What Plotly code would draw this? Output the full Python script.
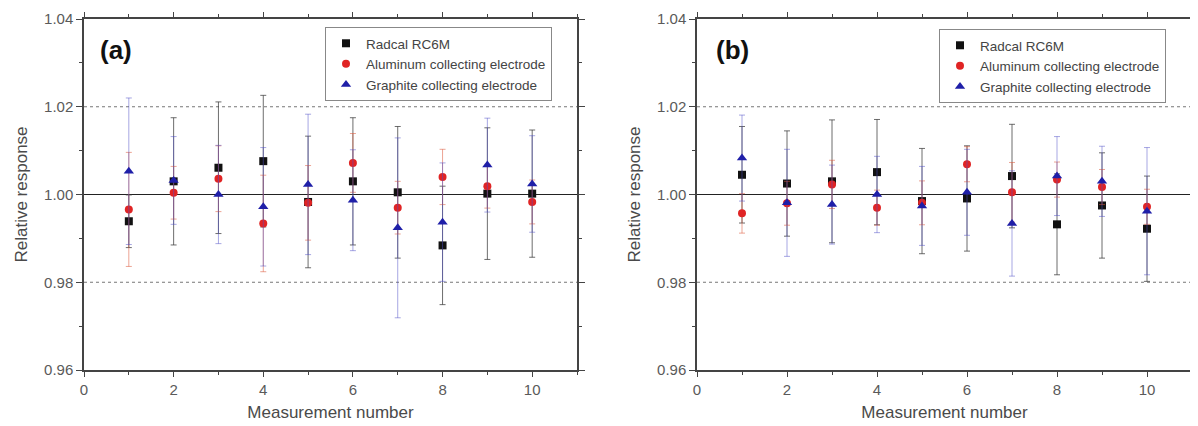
import plotly.graph_objects as go
from plotly.subplots import make_subplots

measurement = [1, 2, 3, 4, 5, 6, 7, 8, 9, 10]

# panel (a)
radcal_a = [0.9939, 1.0030, 1.0061, 1.0076, 0.9983, 1.0030, 1.0005, 0.9884, 1.0002, 1.0002]
radcal_a_err = [0.0060, 0.0145, 0.0150, 0.0150, 0.0150, 0.0145, 0.0150, 0.0135, 0.0150, 0.0145]
alu_a = [0.9966, 1.0004, 1.0036, 0.9934, 0.9981, 1.0072, 0.9970, 1.0040, 1.0019, 0.9983]
alu_a_err = [0.0130, 0.0060, 0.0075, 0.0110, 0.0085, 0.0067, 0.0060, 0.0063, 0.0050, 0.0050]
gra_a = [1.0053, 1.0032, 1.0000, 0.9972, 1.0023, 0.9987, 0.9924, 0.9937, 1.0067, 1.0024]
gra_a_err = [0.0167, 0.0100, 0.0112, 0.0135, 0.0160, 0.0115, 0.0205, 0.0135, 0.0107, 0.0110]

# panel (b)
radcal_b = [1.0045, 1.0025, 1.0030, 1.0051, 0.9985, 0.9991, 1.0042, 0.9932, 0.9975, 0.9922]
radcal_b_err = [0.0110, 0.0120, 0.0140, 0.0120, 0.0120, 0.0120, 0.0118, 0.0115, 0.0120, 0.0120]
alu_b = [0.9957, 0.9980, 1.0023, 0.9970, 0.9981, 1.0069, 1.0005, 1.0034, 1.0017, 0.9972]
alu_b_err = [0.0045, 0.0050, 0.0055, 0.0040, 0.0050, 0.0040, 0.0068, 0.0040, 0.0040, 0.0040]
gra_b = [1.0083, 0.9981, 0.9977, 1.0000, 0.9974, 1.0005, 0.9934, 1.0042, 1.0030, 0.9962]
gra_b_err = [0.0098, 0.0122, 0.0090, 0.0087, 0.0090, 0.0098, 0.0120, 0.0090, 0.0080, 0.0145]

names = ["Radcal RC6M", "Aluminum collecting electrode", "Graphite collecting electrode"]
colors = ["#111111", "#e02424", "#1f1fa8"]
err_colors = ["rgba(60,60,60,0.75)", "rgba(220,90,60,0.55)", "rgba(80,80,200,0.5)"]
symbols = ["square", "circle", "triangle-up"]
sizes = [8, 8, 9]

W, H = 1198, 426
off = 8  # page body margin

fig = make_subplots(rows=1, cols=2)

panels = [
    [(radcal_a, radcal_a_err), (alu_a, alu_a_err), (gra_a, gra_a_err)],
    [(radcal_b, radcal_b_err), (alu_b, alu_b_err), (gra_b, gra_b_err)],
]

for p, series in enumerate(panels):
    for i, (vals, errs) in enumerate(series):
        fig.add_trace(go.Scatter(
            x=measurement, y=vals, mode="markers", name=names[i],
            marker=dict(symbol=symbols[i], size=sizes[i], color=colors[i]),
            error_y=dict(type="data", array=errs, color=err_colors[i],
                         thickness=1, width=3),
            legend="legend" if p == 0 else "legend2",
        ), row=1, col=p + 1)

axis_font = dict(family="Liberation Sans, Arial", size=15, color="#5a5a5a")
for c in (1, 2):
    fig.update_xaxes(range=[0, 11], dtick=2, tick0=0, showline=True, linecolor="#444",
                     linewidth=1.5, mirror="ticks", ticks="outside", ticklen=5,
                     tickcolor="#444", minor=dict(dtick=1, ticks="outside", ticklen=3, tickcolor="#444"),
                     showgrid=False, zeroline=False, tickfont=axis_font, automargin=False,
                     title=dict(text="Measurement number", standoff=9,
                                font=dict(family="Liberation Sans, Arial", size=17, color="#4a4a4a")),
                     row=1, col=c)
    fig.update_yaxes(range=[0.96, 1.04], dtick=0.02, tick0=0.96, tickformat=".2f",
                     showline=True, linecolor="#444", linewidth=1.5, mirror="ticks",
                     ticks="outside", ticklen=6, tickcolor="#444",
                     minor=dict(dtick=0.01, ticks="outside", ticklen=3, tickcolor="#444"),
                     showgrid=False, zeroline=False, tickfont=axis_font, automargin=False,
                     title=dict(text="Relative response", standoff=12,
                                font=dict(family="Liberation Sans, Arial", size=17, color="#4a4a4a")),
                     row=1, col=c)

fig.update_layout(
    xaxis=dict(domain=[(84 - off) / W, (577 - off) / W]),
    xaxis2=dict(domain=[(697 - off) / W, (1192 - off) / W]),
    yaxis=dict(domain=[1 - (370 - off) / H, 1 - (19 - off) / H]),
    yaxis2=dict(domain=[1 - (370 - off) / H, 1 - (19 - off) / H]),
)

# reference lines
for xr, yr in (("x domain", "y"), ("x2 domain", "y2")):
    for lvl, dash, col in ((0.98, "dot", "#777"), (1.02, "dot", "#777"), (1.00, "solid", "#222")):
        fig.add_shape(type="line", xref=xr, yref=yr, x0=0, x1=1, y0=lvl, y1=lvl,
                      line=dict(color=col, width=1.2, dash=dash), layer="below")

fig.add_annotation(text="<b>(a)</b>", xref="paper", yref="paper", x=(98 - off) / W, y=1 - (50 - off) / H,
                   xanchor="left", yanchor="middle", showarrow=False,
                   font=dict(family="Liberation Sans, Arial", size=26, color="#111"))
fig.add_annotation(text="<b>(b)</b>", xref="paper", yref="paper", x=(714 - off) / W, y=1 - (50 - off) / H,
                   xanchor="left", yanchor="middle", showarrow=False,
                   font=dict(family="Liberation Sans, Arial", size=26, color="#111"))

leg_style = dict(bordercolor="#888", borderwidth=1, bgcolor="white",
                 font=dict(family="Liberation Sans, Arial", size=13.5, color="#444"),
                 xanchor="left", yanchor="top", tracegroupgap=0, itemwidth=30)
fig.update_layout(
    legend=dict(x=(325 - off) / W, y=1 - (27 - off) / H, **leg_style),
    legend2=dict(x=(939 - off) / W, y=1 - (29 - off) / H, **leg_style),
    width=W, height=H,
    margin=dict(l=0, r=0, t=0, b=0),
    plot_bgcolor="white", paper_bgcolor="white",
)

fig.write_html("out.html")
